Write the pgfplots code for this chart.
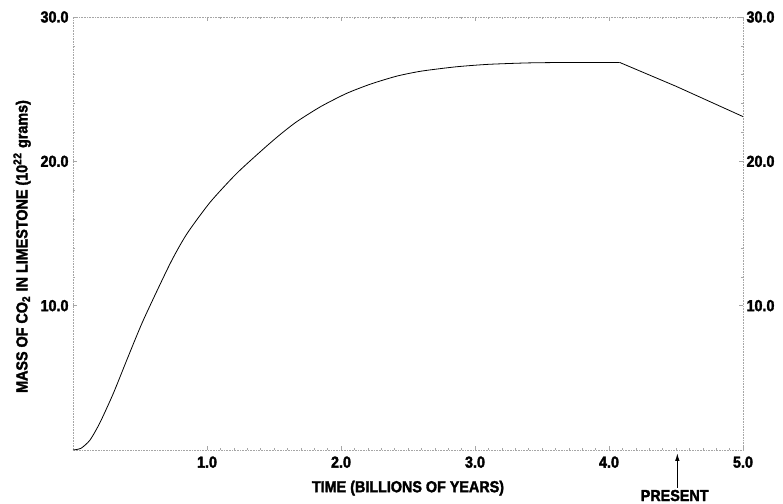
\documentclass[border=0pt]{standalone}
\usepackage{fontspec}
\setmainfont{Liberation Sans}[FakeStretch=0.9, BoldFeatures={FakeBold=2}]
\usepackage{pgfplots}
\pgfplotsset{compat=1.18}
\usetikzlibrary{arrows.meta}
\begin{document}
\begin{tikzpicture}
\pgfplotsset{
  base/.style={
    width=670bp, height=433bp, scale only axis,
    xmin=0, xmax=5, ymin=0, ymax=30,
    /pgf/number format/assume math mode=true,
    /pgf/number format/fixed, /pgf/number format/fixed zerofill,
    /pgf/number format/precision=1,
    tick label style={font=\fontsize{16}{18}\selectfont\bfseries},
    major tick length=4bp, minor tick length=2bp,
    tick style={gray!70, line width=0.5bp},
  }
}
\begin{axis}[base,
  axis line style={gray!70, densely dotted, line width=0.6bp},
  xtick={1,2,3,4,5}, ytick={10,20,30},
  minor x tick num=9, minor y tick num=4,
  xticklabel style={yshift=-3bp},
  yticklabel style={xshift=-1bp},
  xlabel={TIME (BILLIONS OF YEARS)},
  ylabel={MASS OF CO$_{\mathbf 2}$ IN LIMESTONE (10$^{\mathbf{22}}$ grams)},
  label style={font=\fontsize{16}{18}\selectfont\bfseries},
  xlabel style={at={(axis description cs:0.5,-0.088)}, anchor=center},
  ylabel style={at={(axis description cs:-0.076,0.47)}, anchor=center},
  clip=false,
]
\addplot[black, line width=0.8bp, smooth, tension=0.4] coordinates {
(0,0) (0.06,0.12) (0.127,0.69) (0.2,1.87) (0.3,3.9) (0.4,6.2) (0.525,9.0)
(0.724,12.9) (0.848,14.95) (1.022,17.15) (1.22,19.15) (1.42,20.85) (1.545,21.85)
(1.67,22.75) (1.85,23.8) (2.04,24.7) (2.22,25.35) (2.415,25.9) (2.6,26.25)
(2.86,26.55) (3.1,26.72) (3.4,26.82) (3.7,26.85) (4.08,26.85)
};
\addplot[black, line width=0.8bp] coordinates {
(4.08,26.85) (4.5,25.2) (5.0,23.1)
};
\draw[black, line width=1.2bp, -{Latex[length=8bp,width=4.5bp]}] (axis cs:4.51,-2.6) -- (axis cs:4.51,-0.2);
\node[font=\fontsize{16}{18}\selectfont\bfseries, anchor=north, inner sep=0pt] at (axis cs:4.49,-2.75) {PRESENT};
\end{axis}
\begin{axis}[base,
  axis x line=none, axis y line*=right,
  axis line style={draw=none},
  xtick=\empty, ytick={10,20,30},
  yticklabel style={xshift=0bp},
  major tick length=0bp,
]
\end{axis}
\pgfresetboundingbox
\path (-73bp,-54bp) rectangle (710bp,450bp);
\end{tikzpicture}
\end{document}
